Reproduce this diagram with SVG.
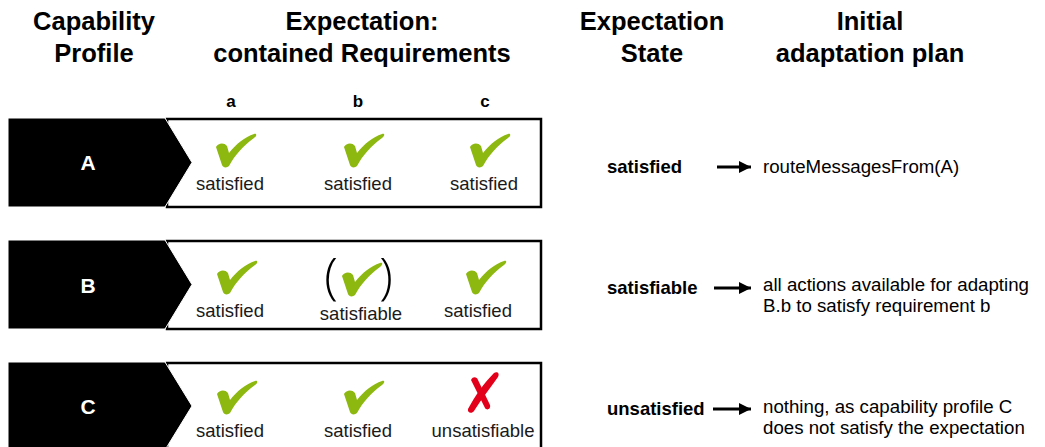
<svg xmlns="http://www.w3.org/2000/svg" width="1045" height="447" viewBox="0 0 1045 447">
<style>
.h{font-family:"Liberation Sans",Arial,sans-serif;font-weight:bold;font-size:25.5px;fill:#000;text-anchor:middle}
.col{font-family:"Liberation Sans",Arial,sans-serif;font-weight:bold;font-size:17px;fill:#000;text-anchor:middle}
.lbl{font-family:"Liberation Sans",Arial,sans-serif;font-weight:bold;font-size:21px;fill:#fff;text-anchor:middle}
.st{font-family:"Liberation Sans",Arial,sans-serif;font-size:18.5px;fill:#1a1a1a;text-anchor:middle}
.state{font-family:"Liberation Sans",Arial,sans-serif;font-weight:bold;font-size:18.5px;fill:#000}
.plan{font-family:"Liberation Sans",Arial,sans-serif;font-size:18.7px;fill:#000}
.box{fill:#fff;stroke:#000;stroke-width:2.5}
.prof{fill:#000;stroke:#fff;stroke-width:1}
.paren{font-family:"Open Sans","DejaVu Sans",sans-serif;font-weight:300;font-size:50px;fill:#000;text-anchor:middle}
.conn{stroke:#000;stroke-width:3;fill:none}
</style>
<defs>
<path id="chk" fill="#8cb80f" d="M1,14 C3,10 9,9 12,13 L14,20 C21,11 30,4 39,1 C42,0 42,3 39,5 C28,13 20,22 14,33 C12,35 8,35 7,32 C5,26 3,20 1,14 Z"/>
<marker id="arr" viewBox="0 0 10 10" refX="10" refY="5" markerWidth="6" markerHeight="4" orient="auto" markerUnits="strokeWidth"><path d="M0,0 L10,5 L0,10 Z" fill="#000"/></marker>
</defs>

<g id="headers">
<text class="h" x="94" y="30">Capability</text>
<text class="h" x="94" y="62">Profile</text>
<text class="h" x="362" y="30">Expectation:</text>
<text class="h" x="362" y="62">contained Requirements</text>
<text class="h" x="652" y="30">Expectation</text>
<text class="h" x="652" y="62">State</text>
<text class="h" x="870" y="30">Initial</text>
<text class="h" x="870" y="62">adaptation plan</text>
<text class="col" x="231" y="107">a</text>
<text class="col" x="358" y="107">b</text>
<text class="col" x="485" y="107">c</text>
</g>

<g id="rowA">
<rect class="box" x="167" y="119" width="374" height="88"/>
<polygon class="prof" points="8,118 165,118 192,162.5 165,207 8,207"/>
<text class="lbl" x="88" y="170">A</text>
<use href="#chk" x="215" y="133"/>
<use href="#chk" x="343" y="133"/>
<use href="#chk" x="469" y="133"/>
<text class="st" x="230" y="190">satisfied</text>
<text class="st" x="358" y="190">satisfied</text>
<text class="st" x="484" y="190">satisfied</text>
</g>

<g id="rowB">
<rect class="box" x="167" y="241" width="374" height="88"/>
<polygon class="prof" points="8,240 165,240 192,284.5 165,329 8,329"/>
<text class="lbl" x="88" y="293">B</text>
<use href="#chk" x="216" y="260"/>
<text class="paren" x="331" y="294">(</text>
<use href="#chk" x="341" y="262"/>
<text class="paren" x="386" y="294">)</text>
<use href="#chk" x="465" y="260"/>
<text class="st" x="230" y="317">satisfied</text>
<text class="st" x="361" y="320">satisfiable</text>
<text class="st" x="478" y="317">satisfied</text>
</g>

<g id="rowC">
<rect class="box" x="167" y="363" width="374" height="86"/>
<polygon class="prof" points="8,362 165,362 192,406 165,450 8,450"/>
<text class="lbl" x="88" y="414">C</text>
<use href="#chk" x="216" y="380"/>
<use href="#chk" x="343" y="380"/>
<path fill="#e2001a" d="M494,373 C497,371 500,373 498,377 C490,388 481,400 474,411 C472,414 467,413 468,409 C475,396 484,383 494,373 Z"/>
<path fill="#e2001a" d="M471,380 C473,376 477,377 478,380 L490,405 C491,409 487,411 485,408 Z"/>
<text class="st" x="230" y="437">satisfied</text>
<text class="st" x="358" y="437">satisfied</text>
<text class="st" x="483" y="437">unsatisfiable</text>
</g>

<g id="stateA">
<text class="state" x="607" y="173">satisfied</text>
<text class="plan" x="763" y="173">routeMessagesFrom(A)</text>
</g>
<g id="stateB">
<text class="state" x="607" y="294">satisfiable</text>
<text class="plan" x="763" y="291">all actions available for adapting</text>
<text class="plan" x="763" y="312">B.b to satisfy requirement b</text>
</g>
<g id="stateC">
<text class="state" x="607" y="415">unsatisfied</text>
<text class="plan" x="763" y="413">nothing, as capability profile C</text>
<text class="plan" x="763" y="434">does not satisfy the expectation</text>
</g>

<g id="connectors">
<line class="conn" x1="717" y1="167" x2="751" y2="167" marker-end="url(#arr)"/>
<line class="conn" x1="714" y1="288" x2="751" y2="288" marker-end="url(#arr)"/>
<line class="conn" x1="713" y1="409" x2="751" y2="409" marker-end="url(#arr)"/>
</g>
</svg>
